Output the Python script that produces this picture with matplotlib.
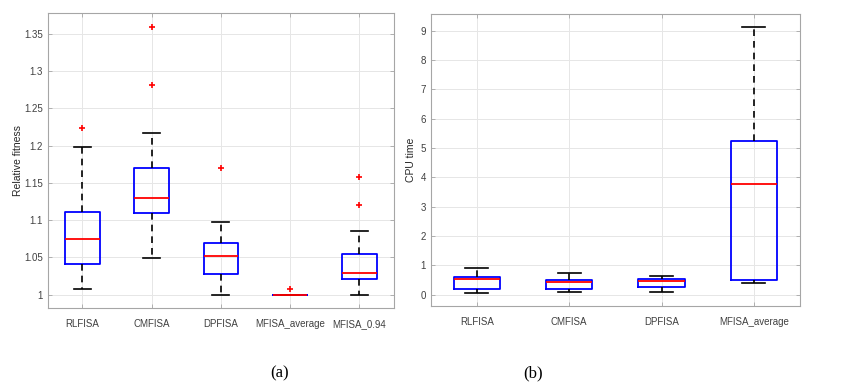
import matplotlib
matplotlib.use("Agg")
import matplotlib.pyplot as plt

fit_names = ["RLFISA", "CMFISA", "DPFISA", "MFISA_average", "MFISA_0.94"]
fit_low = [1.008, 1.049, 1.000, 1.000, 1.000]
fit_q1 = [1.0406, 1.109, 1.0272, 1.000, 1.0205]
fit_med = [1.0745, 1.130, 1.0517, 1.000, 1.0285]
fit_q3 = [1.1115, 1.1694, 1.0687, 1.000, 1.0544]
fit_high = [1.1975, 1.2163, 1.098, 1.000, 1.0856]
fit_out = [[1.223], [1.2818, 1.3594], [1.1703], [1.0071], [1.12, 1.1583]]

# CPU time box stats (figure b)
cpu_names = ["RLFISA", "CMFISA", "DPFISA", "MFISA_average"]
cpu_low = [0.068, 0.08, 0.08, 0.386]
cpu_q1 = [0.19, 0.19, 0.27, 0.51]
cpu_med = [0.52, 0.44, 0.48, 3.78]
cpu_q3 = [0.60, 0.50, 0.545, 5.23]
cpu_high = [0.92, 0.75, 0.65, 9.14]
cpu_out = [[], [], [], []]

plt.rcParams['font.family'] = ['Liberation Sans', 'DejaVu Sans']


def make_stats(names, low, q1, med, q3, high, out):
    stats = []
    for i in range(len(names)):
        stats.append(dict(label=names[i], whislo=low[i], q1=q1[i], med=med[i],
                          q3=q3[i], whishi=high[i], fliers=out[i]))
    return stats


def draw(ax, stats):
    ax.bxp(stats, widths=0.5, showfliers=True,
           boxprops=dict(color='#0000ff', linewidth=1.3),
           medianprops=dict(color='#ff0000', linewidth=1.3),
           whiskerprops=dict(color='black', linestyle=(0, (4, 3)), linewidth=1.2),
           capprops=dict(color='black', linewidth=1.2),
           flierprops=dict(marker='+', markeredgecolor='#ff0000', markersize=5,
                           markeredgewidth=1.2, linestyle='none'),
           capwidths=0.25)
    ax.grid(True, color='#e6e6e6', linewidth=0.7)
    ax.set_axisbelow(True)
    for s in ax.spines.values():
        s.set_color('#a6a6a6')
        s.set_linewidth(0.8)
    ax.tick_params(direction='in', length=3, width=0.6, colors='#a6a6a6',
                   labelcolor='#404040', labelsize=7, top=True, right=True)
    ax.tick_params(axis='x', pad=8)


fig = plt.figure(figsize=(8.5, 3.92), dpi=100)

ax1 = fig.add_axes([0.0561, 0.2143, 0.4074, 0.7526])
draw(ax1, make_stats(fit_names, fit_low, fit_q1, fit_med, fit_q3, fit_high, fit_out))
ax1.set_xlim(0.5, 5.5)
ax1.set_ylim(0.982, 1.378)
ax1.set_yticks([1, 1.05, 1.1, 1.15, 1.2, 1.25, 1.3, 1.35])
ax1.set_yticklabels(["1", "1.05", "1.1", "1.15", "1.2", "1.25", "1.3", "1.35"])
ax1.set_ylabel("Relative fitness", fontsize=7.5, color='#262626', labelpad=1)

ax2 = fig.add_axes([0.5067, 0.2202, 0.4345, 0.745])
draw(ax2, make_stats(cpu_names, cpu_low, cpu_q1, cpu_med, cpu_q3, cpu_high, cpu_out))
ax2.set_xlim(0.5, 4.5)
ax2.set_ylim(-0.375, 9.58)
ax2.set_yticks(range(0, 10))
ax2.set_ylabel("CPU time", fontsize=7.5, color='#262626', labelpad=3)

fig.text(0.329, 0.038, "(a)", fontsize=12, family='Liberation Serif', ha='center')
fig.text(0.627, 0.038, "(b)", fontsize=12, family='Liberation Serif', ha='center')

fig.savefig("out.png", dpi=100, facecolor='white')
